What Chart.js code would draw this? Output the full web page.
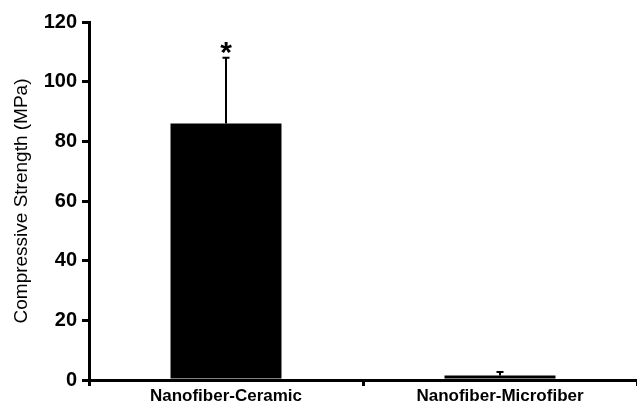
<!DOCTYPE html>
<html>
<head>
    <title>Compressive strength</title>
    <meta charset="utf-8">
    <script src="https://cdn.jsdelivr.net/npm/chart.js"></script>
    <style>
        body { margin: 0; background: #fff; }
        #box { width: 637px; height: 406px; }
    </style>
</head>
<body>
    <div id="box">
        <canvas id="myChart"></canvas>
    </div>
    <script>
        var labels = ['Nanofiber-Ceramic', 'Nanofiber-Microfiber'];
        var strength = [86, 1.5];
        var errUp = [108, 2.7];
        var marks = ['*', ''];
        var yTicks = [0, 20, 40, 60, 80, 100, 120];

        var font = "'Liberation Sans', Arial, sans-serif";

        // error bars + significance star
        var errorBars = {
            id: 'errorBars',
            afterDatasetsDraw: function(chart) {
                var ctx = chart.ctx;
                var x = chart.scales.x, y = chart.scales.y;
                ctx.save();
                ctx.strokeStyle = '#000';
                ctx.lineWidth = 2;
                for (var i = 0; i < labels.length; i++) {
                    var px = x.getPixelForValue(i);
                    var top = y.getPixelForValue(errUp[i]);
                    var base = y.getPixelForValue(strength[i]);
                    ctx.beginPath();
                    ctx.moveTo(px, base);
                    ctx.lineTo(px, top);
                    ctx.moveTo(px - 3.5, top);
                    ctx.lineTo(px + 3.5, top);
                    ctx.stroke();
                    if (marks[i]) {
                        ctx.fillStyle = '#000';
                        ctx.font = 'bold 30px ' + font;
                        ctx.textAlign = 'center';
                        ctx.textBaseline = 'top';
                        ctx.fillText(marks[i], px, top - 19);
                    }
                }
                ctx.restore();
            }
        };

        var config = {
            type: 'bar',
            data: {
                labels: labels,
                datasets: [{
                    data: strength,
                    backgroundColor: '#000',
                    borderWidth: 0,
                    categoryPercentage: 1,
                    barPercentage: 0.405
                }]
            },
            options: {
                responsive: true,
                maintainAspectRatio: false,
                animation: false,
                layout: { padding: { top: 22, right: 0, left: 0, bottom: 0 } },
                plugins: {
                    legend: { display: false },
                    tooltip: { enabled: false }
                },
                scales: {
                    x: {
                        offset: true,
                        border: { color: '#000', width: 3 },
                        grid: { offset: true, drawOnChartArea: false, color: '#000', lineWidth: 3, tickLength: 6 },
                        ticks: { color: '#000', font: { family: font, size: 17, weight: 'bold' }, padding: 0, maxRotation: 0 },
                        afterFit: function(s) { s.height = 26; }
                    },
                    y: {
                        min: 0,
                        max: 120,
                        afterBuildTicks: function(s) {
                            s.ticks = yTicks.map(function(v) { return { value: v }; });
                        },
                        border: { color: '#000', width: 3 },
                        grid: { drawOnChartArea: false, color: '#000', lineWidth: 3, tickLength: 7 },
                        ticks: { color: '#000', font: { family: font, size: 20, weight: 'bold' }, padding: 5 },
                        title: {
                            display: true,
                            text: 'Compressive Strength (MPa)',
                            color: '#000',
                            font: { family: font, size: 19 },
                            padding: { top: 10, bottom: 0 }
                        },
                        afterFit: function(s) { s.width = 89; }
                    }
                }
            },
            plugins: [errorBars]
        };

        var myChart = new Chart(document.getElementById('myChart'), config);
    </script>
</body>
</html>
